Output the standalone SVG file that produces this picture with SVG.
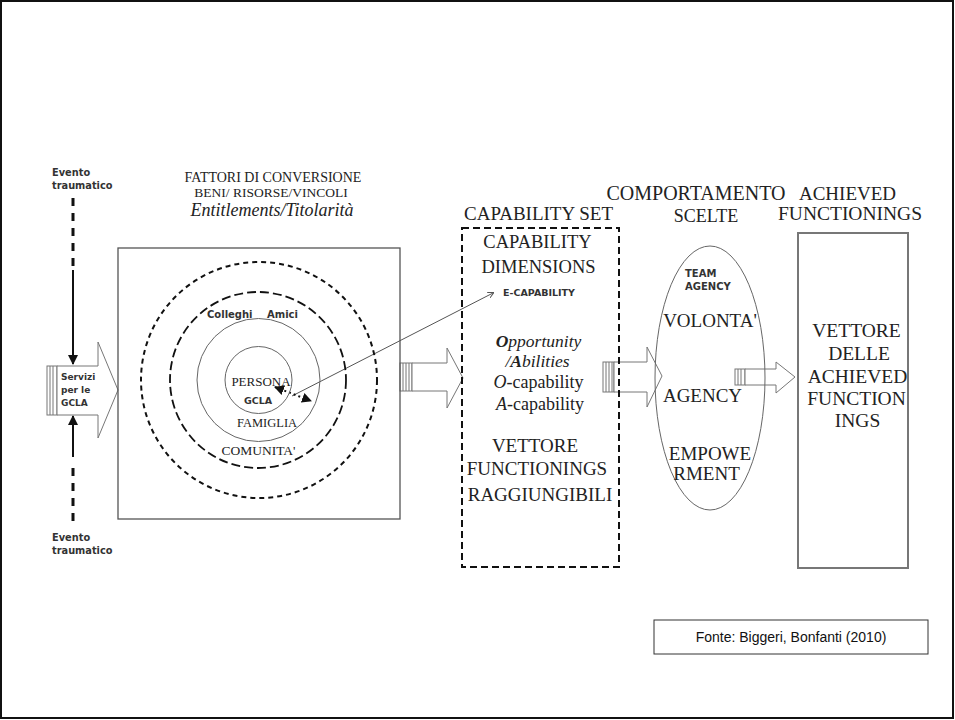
<svg xmlns="http://www.w3.org/2000/svg" width="955" height="720" viewBox="0 0 955 720">
<style>
.serif{font-family:"Liberation Serif","Times New Roman",serif;fill:#222}
.sb{font-family:"DejaVu Sans","Liberation Sans",sans-serif;font-weight:bold;fill:#333}
.blk{fill:#fff;stroke:#777;stroke-width:1}
.rib{fill:#fff;stroke:#777;stroke-width:1}
.thin{fill:none;stroke:#666;stroke-width:1}
.mid{text-anchor:middle}
</style>
<defs>
<marker id="ah" markerWidth="10" markerHeight="10" refX="9" refY="5" orient="auto" markerUnits="userSpaceOnUse">
<path d="M0,0 L10,5 L0,10 Z" fill="#111"/>
</marker>
<marker id="ahs" markerWidth="10" markerHeight="10" refX="1" refY="5" orient="auto" markerUnits="userSpaceOnUse">
<path d="M10,0 L0,5 L10,10 Z" fill="#111"/>
</marker>
<marker id="tiny" markerWidth="6" markerHeight="6" refX="5" refY="3" orient="auto" markerUnits="userSpaceOnUse">
<path d="M0,0 L6,3 L0,6" fill="none" stroke="#555" stroke-width="1"/>
</marker>
</defs>
<rect x="1" y="1" width="952" height="717" fill="#fff" stroke="#111" stroke-width="2"/>

<g id="connectors">
<line x1="73" y1="198" x2="73" y2="266" stroke="#111" stroke-width="3" stroke-dasharray="8,7"/>
<line x1="73" y1="270" x2="73" y2="364" stroke="#111" stroke-width="2" marker-end="url(#ah)"/>
<line x1="73" y1="457" x2="73" y2="416" stroke="#111" stroke-width="2" marker-end="url(#ah)"/>
<line x1="73" y1="468" x2="73" y2="522" stroke="#111" stroke-width="3" stroke-dasharray="8,7"/>
<g id="arrow-conversion">
<rect class="rib" x="400" y="363" width="12" height="28"/>
<line x1="403" y1="363" x2="403" y2="391" stroke="#777"/>
<line x1="406" y1="363" x2="406" y2="391" stroke="#777"/>
<line x1="409" y1="363" x2="409" y2="391" stroke="#777"/>
<polygon class="blk" points="412,363 447,363 447,348 463,378 447,408 447,391 412,391"/>
</g>
<g id="arrow-capability">
<rect class="rib" x="603" y="362" width="11" height="30"/>
<line x1="606" y1="362" x2="606" y2="392" stroke="#777"/>
<line x1="609" y1="362" x2="609" y2="392" stroke="#777"/>
<line x1="612" y1="362" x2="612" y2="392" stroke="#777"/>
<polygon class="blk" points="614,362 647,362 647,347 662,376 647,407 647,392 614,392"/>
</g>
<g id="arrow-behaviour">
<rect class="rib" x="735" y="369" width="10" height="16"/>
<line x1="738" y1="369" x2="738" y2="385" stroke="#777"/>
<line x1="741" y1="369" x2="741" y2="385" stroke="#777"/>
<polygon class="blk" points="745,369 776,369 776,362 795,377 776,393 776,385 745,385"/>
</g>
<line x1="292" y1="396" x2="493" y2="293" stroke="#555" stroke-width="1" marker-end="url(#tiny)"/>
<path d="M275,387 L311,401" fill="none" stroke="#111" stroke-width="2" stroke-dasharray="2,3" marker-start="url(#ahs)" marker-end="url(#ah)"/>
</g>

<g id="evento-top">
<text class="sb" font-size="9.8" x="52" y="176">Evento</text>
<text class="sb" font-size="9.8" x="52" y="189">traumatico</text>
</g>
<g id="evento-bottom">
<text class="sb" font-size="9.8" x="52" y="541">Evento</text>
<text class="sb" font-size="9.8" x="52" y="554">traumatico</text>
</g>

<g id="servizi">
<rect class="rib" x="47" y="366" width="10" height="49"/>
<line x1="50" y1="366" x2="50" y2="415" stroke="#777"/>
<line x1="53" y1="366" x2="53" y2="415" stroke="#777"/>
<polygon class="blk" points="57,366 98,366 98,342 118,390 98,438 98,415 57,415"/>
<text class="sb" font-size="9" x="61" y="380">Servizi</text>
<text class="sb" font-size="9" x="61" y="393">per le</text>
<text class="sb" font-size="9" x="61" y="406">GCLA</text>
</g>

<g id="fattori">
<text class="serif mid" font-size="14" x="273" y="182">FATTORI DI CONVERSIONE</text>
<text class="serif mid" font-size="13.5" x="271" y="197">BENI/ RISORSE/VINCOLI</text>
<text class="serif mid" font-size="18" font-style="italic" x="272" y="216">Entitlements/Titolarità</text>
<rect x="118" y="248" width="282" height="271" fill="none" stroke="#555" stroke-width="1.3"/>
<circle cx="259" cy="380" r="118" fill="none" stroke="#111" stroke-width="2" stroke-dasharray="5,4"/>
<circle cx="258" cy="380" r="88" fill="none" stroke="#111" stroke-width="1.8" stroke-dasharray="9,4"/>
<circle cx="258.5" cy="380" r="61.5" class="thin"/>
<circle cx="258.5" cy="380" r="33.5" class="thin"/>
<text class="sb" font-size="10" x="207" y="318" fill="#334">Colleghi</text>
<text class="sb" font-size="10" x="267" y="318">Amici</text>
<text class="serif mid" font-size="13" x="261" y="386">PERSONA</text>
<text class="sb mid" font-size="9.5" x="258" y="404">GCLA</text>
<text class="serif mid" font-size="12.5" x="267" y="427">FAMIGLIA</text>
<text class="serif mid" font-size="13.5" x="258.5" y="455">COMUNITA'</text>
</g>

<g id="capability-set">
<text class="serif mid" font-size="19" x="538.5" y="220">CAPABILITY SET</text>
<rect x="462" y="228" width="157" height="339" fill="none" stroke="#111" stroke-width="2" stroke-dasharray="7,4"/>
<text class="serif mid" font-size="18.5" x="537.5" y="248">CAPABILITY</text>
<text class="serif mid" font-size="18.5" x="538.5" y="273">DIMENSIONS</text>
<text class="sb mid" font-size="9.5" x="539" y="296">E-CAPABILITY</text>
<text class="serif mid" font-size="17.5" font-style="italic" x="538.5" y="347"><tspan font-weight="bold">O</tspan>pportunity</text>
<text class="serif mid" font-size="17.5" font-style="italic" x="537.5" y="367">/<tspan font-weight="bold">A</tspan>bilities</text>
<text class="serif mid" font-size="18" x="538.5" y="388"><tspan font-style="italic">O</tspan>-capability</text>
<text class="serif mid" font-size="18" x="540" y="410"><tspan font-style="italic">A</tspan>-capability</text>
<text class="serif mid" font-size="19" x="535" y="452">VETTORE</text>
<text class="serif mid" font-size="19" x="537" y="475">FUNCTIONINGS</text>
<text class="serif mid" font-size="19" x="540" y="501">RAGGIUNGIBILI</text>
</g>

<g id="comportamento">
<text class="serif mid" font-size="20" x="696" y="200">COMPORTAMENTO</text>
<text class="serif mid" font-size="18" x="706" y="222">SCELTE</text>
<ellipse cx="710" cy="378" rx="55" ry="132" fill="none" stroke="#666" stroke-width="1"/>
<text class="sb" font-size="10" x="685" y="277">TEAM</text>
<text class="sb" font-size="10" x="685" y="290">AGENCY</text>
<text class="serif mid" font-size="19" x="710" y="327">VOLONTA'</text>
<text class="serif mid" font-size="19" x="702.5" y="402">AGENCY</text>
<text class="serif mid" font-size="19" x="710" y="460">EMPOWE</text>
<text class="serif mid" font-size="19" x="706.5" y="480">RMENT</text>
</g>

<g id="achieved">
<text class="serif mid" font-size="19" x="847.5" y="200">ACHIEVED</text>
<text class="serif mid" font-size="19.5" x="850" y="220">FUNCTIONINGS</text>
<rect x="798" y="233" width="110" height="335" fill="none" stroke="#777" stroke-width="2"/>
<text class="serif mid" font-size="19.5" x="856.5" y="337">VETTORE</text>
<text class="serif mid" font-size="19.5" x="859" y="360">DELLE</text>
<text class="serif mid" font-size="19.5" x="857.5" y="383">ACHIEVED</text>
<text class="serif mid" font-size="19.5" x="856.5" y="405">FUNCTION</text>
<text class="serif mid" font-size="19.5" x="857.5" y="427">INGS</text>
</g>

<g id="fonte">
<rect x="654" y="620" width="274" height="34" fill="#fff" stroke="#333" stroke-width="1"/>
<text font-family="Liberation Sans, Arial, sans-serif" font-size="14" fill="#111" x="791" y="642" text-anchor="middle">Fonte: Biggeri, Bonfanti (2010)</text>
</g>
</svg>
